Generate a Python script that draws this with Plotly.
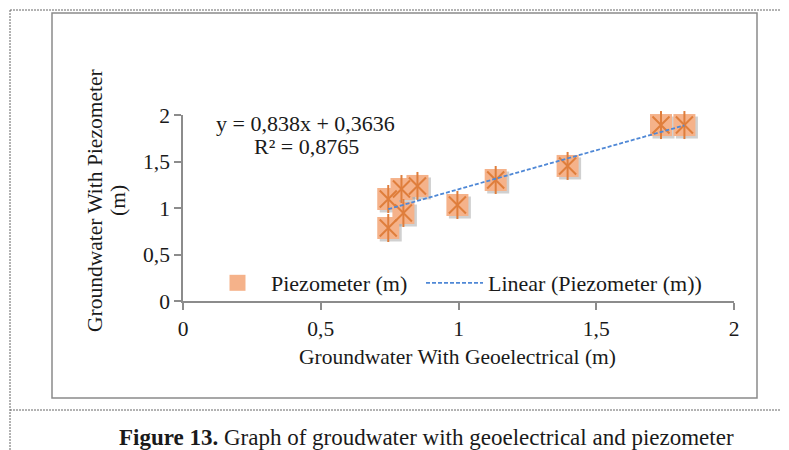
import plotly.graph_objects as go

# ---- data ----
geoelectrical = [1.82, 1.735, 1.396, 1.135, 0.996, 0.851, 0.793, 0.745, 0.80, 0.745]
piezometer = [1.892, 1.892, 1.452, 1.301, 1.032, 1.237, 1.204, 1.097, 0.946, 0.785]
trend_slope = 0.838
trend_intercept = 0.3636
r_squared = 0.8765
x_ticks = [0, 0.5, 1, 1.5, 2]
y_ticks = [0, 0.5, 1, 1.5, 2]

W, H = 789, 450
OFF = 8  # page body margin in the screenshot
L, R, T, B = 183 - OFF, 734 - OFF, 115 - OFF, 301 - OFF  # plot area in figure pixels


def px(x):
    return (x - OFF - L) / (R - L)


def py(y):
    return (B - (y - OFF)) / (B - T)


FONT = "Liberation Serif, Times New Roman, serif"
ORANGE = "#F5B28A"
DARK_ORANGE = "#DF7E3C"
BLUE = "#4F88D6"
GREY = "#8C8C8C"
TXT = "#1a1a1a"

fig = go.Figure()

# shadow
fig.add_trace(go.Scatter(
    x=[v + 2.5 / 275 for v in geoelectrical], y=[v - 2.5 / 93 for v in piezometer],
    mode="markers", showlegend=False, hoverinfo="skip",
    marker=dict(symbol="square", size=22, color="rgba(120,120,120,0.35)", line=dict(width=0)),
    cliponaxis=False))
fig.add_trace(go.Scatter(
    x=geoelectrical, y=piezometer, mode="markers", name="Piezometer (m)",
    marker=dict(symbol="square", size=22, color=ORANGE, line=dict(width=0)),
    cliponaxis=False, legend="legend"))
fig.add_trace(go.Scatter(
    x=geoelectrical, y=piezometer, mode="markers", showlegend=False, hoverinfo="skip",
    marker=dict(symbol="x-thin-open", size=17, color=DARK_ORANGE, line=dict(width=2)),
    cliponaxis=False))
fig.add_trace(go.Scatter(
    x=geoelectrical, y=piezometer, mode="markers", showlegend=False, hoverinfo="skip",
    marker=dict(symbol="line-ns-open", size=20, color=DARK_ORANGE, line=dict(width=2)),
    cliponaxis=False))

xmin, xmax = min(geoelectrical), max(geoelectrical)
fig.add_trace(go.Scatter(
    x=[xmin, xmax], y=[trend_slope * xmin + trend_intercept, trend_slope * xmax + trend_intercept],
    mode="lines", name="Linear (Piezometer (m))",
    line=dict(color=BLUE, width=1.8, dash="4px,2px"), legend="legend2"))

axis_common = dict(
    showgrid=False, zeroline=False, showline=True, linecolor=GREY, linewidth=1.5,
    ticks="outside", ticklen=7, tickcolor=GREY, tickwidth=1.5,
    tickfont=dict(family=FONT, size=21.5, color=TXT),
)

legend_common = dict(orientation="h", xanchor="left", yanchor="middle",
                     font=dict(family=FONT, size=22, color=TXT), bgcolor="rgba(0,0,0,0)",
                     itemwidth=57, tracegroupgap=0)

fig.update_layout(
    width=W, height=H,
    margin=dict(l=L, r=W - R, t=T, b=H - B, pad=0),
    paper_bgcolor="white", plot_bgcolor="white",
    separators=", ",
    font=dict(family=FONT, color=TXT),
    xaxis=dict(range=[0, 2], tickvals=x_ticks, **axis_common),
    yaxis=dict(range=[0, 2], tickvals=y_ticks, **axis_common),
    showlegend=True,
    legend=dict(x=px(204), y=py(283), **legend_common),
    legend2=dict(x=px(421), y=py(283), **legend_common),
)

shapes = []
shapes.append(dict(type="rect", xref="paper", yref="paper",
                   x0=px(52), x1=px(757), y0=py(13), y1=py(398),
                   line=dict(color="#8A8A8A", width=1.5)))
dash_line = dict(color="#666", width=1, dash="2px,1px")
shapes.append(dict(type="line", xref="paper", yref="paper", x0=px(10), x1=px(800),
                   y0=py(10), y1=py(10), line=dash_line))
shapes.append(dict(type="line", xref="paper", yref="paper", x0=px(10), x1=px(10),
                   y0=py(10), y1=py(460), line=dash_line))
shapes.append(dict(type="line", xref="paper", yref="paper", x0=px(10), x1=px(800),
                   y0=py(410), y1=py(410), line=dash_line))
fig.update_layout(shapes=shapes)

eq_text = f"y = {str(trend_slope).replace('.', ',')}x + {str(trend_intercept).replace('.', ',')}"
r2_text = f"R² = {str(r_squared).replace('.', ',')}"


def ann(text, x, y, size, angle=0):
    return dict(text=text, xref="paper", yref="paper", x=px(x), y=py(y), showarrow=False,
                textangle=angle, font=dict(family=FONT, size=size, color=TXT),
                xanchor="center", yanchor="middle")


annotations = [
    ann(eq_text, 305, 123, 22),
    ann(r2_text, 306, 146, 22),
    ann("Groundwater With Geoelectrical (m)", 457, 357, 21.5),
    ann("Groundwater With Piezometer", 95, 201, 21.5, -90),
    ann("(m)", 118, 201, 21.5, -90),
    ann("<b>Figure 13.</b> Graph of groudwater with geoelectrical and piezometer", 426, 437, 23),
]
fig.update_layout(annotations=annotations)

fig.write_html("out.html")
